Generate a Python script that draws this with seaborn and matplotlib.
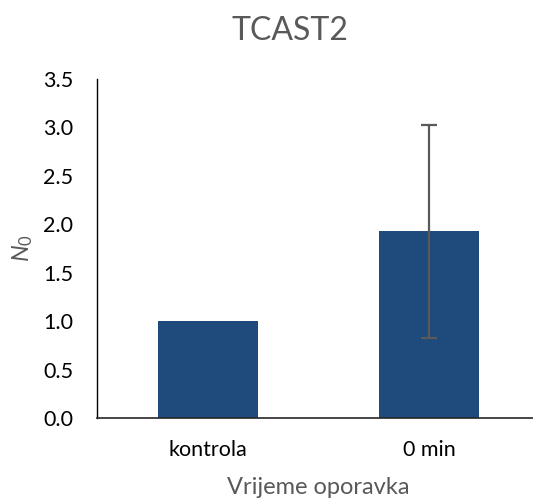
import matplotlib
matplotlib.use("Agg")
import matplotlib.pyplot as plt
import seaborn as sns
import pandas as pd
import numpy as np

categories = ["kontrola", "0 min"]
values = [1.0, 1.93]
err_low = [0.0, 1.10]
err_high = [0.0, 1.10]
yticks = [0.0, 0.5, 1.0, 1.5, 2.0, 2.5, 3.0, 3.5]

sns.set_theme(style="white")
plt.rcParams['font.family'] = ['Lato', 'DejaVu Sans']
plt.rcParams['mathtext.fontset'] = 'custom'
plt.rcParams['mathtext.rm'] = 'Lato'
plt.rcParams['mathtext.it'] = 'Lato:italic'

df = pd.DataFrame({"cat": categories, "val": values})

fig = plt.figure(figsize=(5.33, 4.99), dpi=100)
ax = fig.add_axes([97/533, 81/499, 443/533, 339/499])

sns.barplot(data=df, x="cat", y="val", color="#1F4A7C", saturation=1,
            width=0.45, errorbar=None, ax=ax)
for p in ax.patches:
    p.set_edgecolor("none")

idx = [i for i in range(len(categories)) if err_low[i] > 0 or err_high[i] > 0]
ax.errorbar(idx, [values[i] for i in idx],
            yerr=[[err_low[i] for i in idx], [err_high[i] for i in idx]],
            fmt="none", ecolor="#5A5A5A", elinewidth=1.6, capsize=6, capthick=1.6)

ax.set_xlim(-0.5, 1.5)
ax.set_ylim(0, 3.5)
ax.set_yticks(yticks)
ax.set_yticklabels([f"{t:.1f}" for t in yticks])

for s in ["top", "right"]:
    ax.spines[s].set_visible(False)
ax.spines["left"].set_color("#000000")
ax.spines["left"].set_linewidth(1.0)
ax.spines["bottom"].set_color("#262626")
ax.spines["bottom"].set_linewidth(1.2)

ax.tick_params(axis="both", length=0, labelsize=15.5, colors="#000000")
ax.tick_params(axis="y", pad=17)
ax.tick_params(axis="x", pad=16)

ax.set_xlabel("Vrijeme oporavka", fontsize=17, color="#595959", labelpad=12)
ax.set_ylabel(r"$N_0$", fontsize=17, color="#595959", labelpad=6)
fig.text(290/533, 0.968, "TCAST2", fontsize=23, color="#595959",
         ha="center", va="top")

fig.savefig("out.png", dpi=100)
